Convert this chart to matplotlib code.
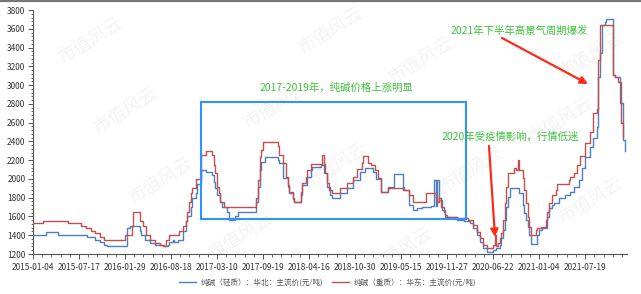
import matplotlib
matplotlib.use("Agg")
import matplotlib.pyplot as plt
from matplotlib.lines import Line2D
from matplotlib.patches import Rectangle
from matplotlib.ticker import MultipleLocator, FixedLocator

plt.rcParams['font.family'] = ['Noto Sans CJK SC', 'DejaVu Sans']

# ---- data (weekly index, step change points) ----
tick_labels = ['2015-01-04', '2015-07-17', '2016-01-29', '2016-08-18', '2017-03-10',
               '2017-09-19', '2018-04-16', '2018-10-30', '2019-05-15', '2019-11-27',
               '2020-06-22', '2021-01-04', '2021-07-19']
tick_step = 28

light_weeks = [0, 8, 15, 33, 38, 41, 43, 45, 57, 59, 65, 66, 68, 71, 74, 79, 82, 83, 85, 86, 88,
               91, 93, 94, 96, 97, 99, 100, 102, 105, 109, 110, 111, 112, 114, 115, 118, 119, 123,
               125, 136, 137, 138, 139, 141, 149, 150, 152, 155, 156, 158, 159, 163, 164, 167, 169,
               170, 175, 177, 179, 181, 182, 187, 191, 195, 199, 202, 207, 209, 212, 216, 220, 225,
               226, 229, 231, 234, 237, 242, 244, 245, 246, 247, 249, 251, 252, 258, 262, 266, 268,
               270, 272, 274, 276, 280, 282, 284, 285, 286, 287, 288, 289, 290, 296, 298, 299, 300,
               301, 302, 303, 307, 308, 310, 313, 314, 316, 317, 320, 324, 327, 329, 332, 334, 336,
               339, 341, 343, 344, 345, 346, 348, 349, 353, 354, 357, 359, 360]
light_price = [1400, 1430, 1400, 1380, 1350, 1330, 1300, 1280, 1480, 1500, 1450, 1400, 1350, 1320,
               1300, 1280, 1300, 1330, 1350, 1330, 1350, 1450, 1550, 1600, 1700, 1800, 1850, 1950,
               2095, 2075, 2040, 1970, 1900, 1830, 1757, 1700, 1650, 1560, 1600, 1650, 1757, 1917,
               2095, 2185, 2230, 2200, 2165, 2010, 1917, 1850, 1797, 1757, 1830, 1935, 2025, 2100,
               2130, 2150, 2060, 1917, 1829, 1793, 1847, 1900, 1989, 2077, 2113, 2077, 1997, 1864,
               1917, 2052, 1917, 1882, 1722, 1669, 1687, 1704, 1710, 1989, 1710, 1989, 1775, 1669,
               1615, 1590, 1560, 1550, 1527, 1474, 1402, 1331, 1260, 1218, 1243, 1260, 1296, 1367,
               1456, 1562, 1704, 1811, 1900, 1847, 1722, 1634, 1562, 1491, 1402, 1306, 1402, 1456,
               1474, 1598, 1687, 1722, 1747, 1793, 1829, 1864, 1917, 1989, 2113, 2237, 2343, 2432,
               2557, 3090, 3338, 3640, 3675, 3700, 3107, 3090, 2806, 2415, 2300]

heavy_weeks = [0, 6, 21, 29, 32, 35, 38, 41, 43, 56, 60, 61, 65, 67, 69, 71, 74, 77, 80, 81, 83,
               89, 91, 93, 94, 95, 96, 97, 99, 102, 105, 109, 110, 111, 112, 113, 114, 116, 136,
               137, 138, 139, 140, 149, 150, 152, 154, 155, 156, 158, 159, 163, 164, 166, 167, 169,
               176, 177, 178, 179, 180, 182, 187, 191, 195, 197, 200, 201, 204, 206, 208, 210, 212,
               216, 225, 229, 231, 239, 245, 246, 247, 248, 250, 251, 258, 265, 268, 270, 272, 274,
               276, 280, 281, 282, 283, 284, 285, 286, 287, 288, 289, 293, 294, 295, 296, 298, 299,
               300, 301, 302, 303, 306, 307, 309, 312, 313, 314, 316, 318, 319, 326, 327, 329, 331,
               333, 336, 339, 341, 343, 344, 345, 353, 354, 356, 358, 359]
heavy_price = [1530, 1555, 1530, 1500, 1480, 1450, 1420, 1380, 1350, 1400, 1500, 1650, 1550, 1500,
               1400, 1350, 1320, 1300, 1280, 1350, 1400, 1450, 1500, 1550, 1650, 1750, 1850, 1900,
               2000, 2250, 2300, 2255, 2150, 2060, 1915, 1850, 1755, 1700, 1800, 1990, 2235, 2310,
               2395, 2350, 2255, 2170, 2020, 1935, 1860, 1790, 1755, 1860, 1955, 2020, 2095, 2160,
               2255, 2160, 2060, 1955, 1880, 1847, 1900, 1953, 2023, 2102, 2166, 2244, 2166, 2150,
               2095, 2007, 1864, 1900, 1882, 1829, 1757, 1847, 1797, 1757, 1797, 1704, 1650, 1590,
               1580, 1562, 1509, 1438, 1367, 1296, 1260, 1296, 1402, 1280, 1314, 1367, 1420, 1562,
               1740, 1917, 2060, 2113, 2095, 2202, 2095, 2007, 1882, 1740, 1598, 1491, 1402, 1456,
               1474, 1491, 1562, 1650, 1740, 1829, 1882, 1950, 1989, 2023, 2060, 2148, 2244, 2380,
               2503, 2699, 2742, 3267, 3640, 3107, 3090, 3036, 2593, 2450]

light_label = '纯碱（轻质）：华北：主流价(元/吨)'
heavy_label = '纯碱（重质）：华东：主流价(元/吨)'

W, H = 641, 294
fig = plt.figure(figsize=(W / 100, H / 100), dpi=100)
ax = fig.add_axes([33 / W, 40 / H, 594 / W, 244 / H])

light_color = '#4f7fbf'
heavy_color = '#c0504d'
ax.step(light_weeks, light_price, where='post', color=light_color, lw=1.0, zorder=3)
ax.step(heavy_weeks, heavy_price, where='post', color=heavy_color, lw=1.0, zorder=3)

ax.set_xlim(0, 361.5)
ax.set_ylim(1200, 3800)

ax.xaxis.set_major_locator(FixedLocator([i * tick_step for i in range(len(tick_labels))]))
ax.set_xticklabels(tick_labels)
ax.xaxis.set_minor_locator(MultipleLocator(tick_step / 5))
ax.yaxis.set_major_locator(MultipleLocator(200))
ax.yaxis.set_minor_locator(MultipleLocator(40))

axis_col = '#555555'
for s in ['top', 'right']:
    ax.spines[s].set_visible(False)
for s in ['left', 'bottom']:
    ax.spines[s].set_color(axis_col)
    ax.spines[s].set_linewidth(0.8)
ax.tick_params(axis='both', which='major', length=3.5, width=0.7, color=axis_col,
               labelsize=6, labelcolor='#333333', pad=2)
ax.tick_params(axis='both', which='minor', length=1.8, width=0.6, color=axis_col)
ax.tick_params(axis='x', which='major', pad=3)

# highlight box
ax.add_patch(Rectangle((102.3, 1573), 161.3, 1247, fill=False, edgecolor='#2e93ff',
                       lw=1.5, zorder=4))

def fpos(px, py):
    return (px / W, 1 - py / H)

green = '#3fc23f'
fig.text(*fpos(336, 88), '2017-2019年，纯碱价格上涨明显', ha='center', va='center',
         color=green, fontsize=7.5)
fig.text(*fpos(519, 31), '2021年下半年高景气周期爆发', ha='center', va='center',
         color=green, fontsize=7.5)
fig.text(*fpos(510, 137), '2020年受疫情影响，行情低迷', ha='center', va='center',
         color=green, fontsize=7.5)

arrow_col = '#ff2a1a'
ax.annotate('', xy=fpos(588, 84), xytext=fpos(502, 38), xycoords='figure fraction',
            textcoords='figure fraction',
            arrowprops=dict(arrowstyle='-|>', color=arrow_col, lw=1.6, mutation_scale=11,
                            shrinkA=0, shrinkB=0), zorder=6)
ax.annotate('', xy=fpos(495, 237), xytext=fpos(489, 146), xycoords='figure fraction',
            textcoords='figure fraction',
            arrowprops=dict(arrowstyle='-|>', color=arrow_col, lw=1.6, mutation_scale=11,
                            shrinkA=0, shrinkB=0), zorder=6)

# faint watermark
for (px, py) in [(90, 40), (125, 110), (160, 180), (275, 105), (335, 165),
                 (240, 235), (420, 60), (470, 170), (560, 120), (590, 55), (590, 200),
                 (400, 250), (330, 30)]:
    ax.text(px / W, 1 - py / H, '市值风云', transform=fig.transFigure, rotation=32,
            ha='center', va='center', fontsize=13, color='#f3f3f3', zorder=0, clip_on=False)

# top border
fig.add_artist(Line2D([0, 1], [1 - 0.8 / H, 1 - 0.8 / H], color='#777777', lw=1.6,
                      transform=fig.transFigure))

# legend
handles = [Line2D([], [], color=light_color, lw=1.0), Line2D([], [], color=heavy_color, lw=1.0)]
fig.legend(handles, [light_label, heavy_label], loc='center', bbox_to_anchor=(0.511, 11 / H),
           ncol=2, frameon=False, fontsize=5.5, handlelength=2.2, columnspacing=1.2,
           handletextpad=0.6, labelcolor='#555555')

fig.savefig('out.png', dpi=100)
